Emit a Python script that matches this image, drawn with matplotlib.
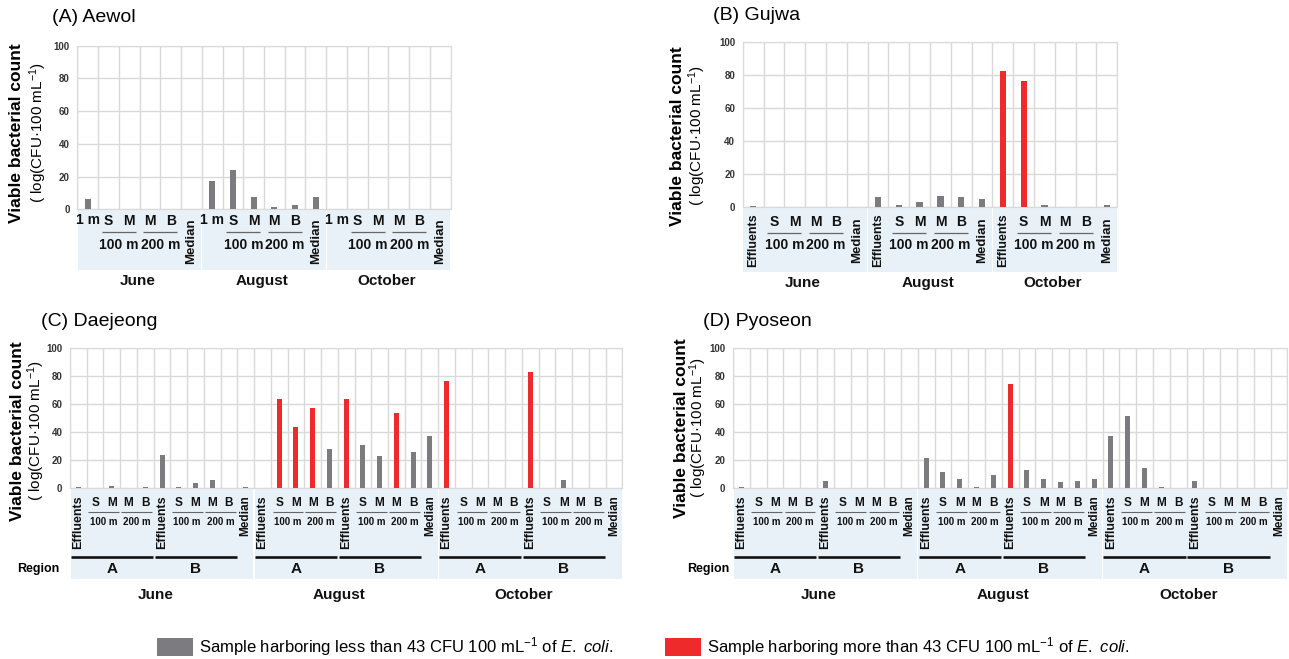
import numpy as np
import matplotlib
matplotlib.use('Agg')
import matplotlib.pyplot as plt
from matplotlib.patches import Rectangle

plt.rcParams['font.family'] = ['Liberation Sans', 'DejaVu Sans']
plt.rcParams['mathtext.fontset'] = 'custom'
plt.rcParams['mathtext.rm'] = 'Liberation Sans'
plt.rcParams['mathtext.it'] = 'Liberation Sans:italic'
plt.rcParams['mathtext.bf'] = 'Liberation Sans:bold'

months = ['June', 'August', 'October']

# (A) Aewol - 6 samples per month
a_labels = ['1 m', 'S', 'M', 'M', 'B', 'Median']
a_june = [6.3, 0, 0, 0, 0, 0]
a_aug = [17.3, 23.8, 7.7, 1.4, 2.9, 7.7]
a_oct = [0, 0.3, 0, 0, 0, 0]
a_red = [0] * 18

# (B) Gujwa
b_labels = ['Effluents', 'S', 'M', 'M', 'B', 'Median']
b_june = [0.6, 0, 0, 0, 0, 0]
b_aug = [5.7, 1.0, 2.6, 6.7, 6.1, 4.6]
b_oct = [82.2, 76.2, 1.2, 0, 0, 0.8]
b_red = [0] * 12 + [1, 1, 0, 0, 0, 0]

# (C) Daejeong - region A (5) + region B (5) + median per month
cd_labels = ['Effluents', 'S', 'M', 'M', 'B']
c_june = [0.8, 0, 1.5, 0, 0.8, 23.9, 0.8, 3.5, 5.9, 0, 0.8]
c_aug = [0, 63.3, 43.8, 56.9, 28.0, 63.3, 30.8, 23.2, 53.3, 25.6, 37.2]
c_oct = [76.3, 0, 0, 0, 0, 82.7, 0, 5.9, 0, 0, 0]
c_red = ([0] * 11 + [0, 1, 1, 1, 0, 1, 0, 0, 1, 0, 0]
         + [1, 0, 0, 0, 0, 1, 0, 0, 0, 0, 0])

# (D) Pyoseon
d_june = [0.8, 0, 0, 0.5, 0, 5.0, 0, 0.5, 0, 0, 0]
d_aug = [21.8, 11.6, 6.6, 1.0, 9.7, 74.2, 12.8, 6.6, 4.7, 5.2, 6.6]
d_oct = [37.2, 51.4, 14.7, 0.9, 0, 5.2, 0, 0, 0, 0, 0]
d_red = [0] * 11 + [0, 0, 0, 0, 0, 1, 0, 0, 0, 0, 0] + [0] * 11

GRAY = '#7c7c80'
RED = '#ee2a2a'
BAND = '#e8f1f7'
GRID = '#d9d9d9'

W, H = 1289, 659
fig = plt.figure(figsize=(W / 100, H / 100), dpi=100)


def make_ax(x0, x1, y0, y1, vals, red):
    ax = fig.add_axes([x0 / W, 1 - y1 / H, (x1 - x0) / W, (y1 - y0) / H])
    n = len(vals)
    ax.set_xlim(0, n)
    ax.set_ylim(0, 100)
    ax.set_xticks(np.arange(n + 1))
    ax.set_xticklabels([])
    ax.set_yticks(np.arange(0, 101, 20))
    ax.tick_params(length=0, labelsize=7, labelcolor='#333333', pad=5.5)
    for lab in ax.get_yticklabels():
        lab.set_fontweight('bold')
    ax.grid(True, color=GRID, lw=1.0)
    ax.set_axisbelow(True)
    for s in ax.spines.values():
        s.set_color(GRID)
    cols = [RED if r else GRAY for r in red]
    ax.bar(np.arange(n) + 0.5, vals, width=0.3, color=cols, zorder=3)
    # pixel helper: y in px -> axes fraction
    ax._yb, ax._h = y1, y1 - y0
    return ax


def fy(ax, ypx):
    return (ax._yb - ypx) / ax._h


def txt(ax, x, ypx, s, size, rot=0):
    ax.text(x, fy(ax, ypx), s, transform=ax.get_xaxis_transform(),
            ha='center', va='center', fontsize=size, fontweight='bold',
            rotation=rot, clip_on=False, color='#111111')


def hline(ax, xa, xb, ypx, lw, color):
    ax.plot([xa, xb], [fy(ax, ypx)] * 2, transform=ax.get_xaxis_transform(),
            color=color, lw=lw, clip_on=False, solid_capstyle='butt')


def band(ax, xa, xb, ypx):
    yb = fy(ax, ypx)
    ax.add_patch(Rectangle((xa, yb), xb - xa, -yb, transform=ax.get_xaxis_transform(),
                           facecolor=BAND, edgecolor='none', clip_on=False, zorder=0))


def simple_panel(box, vals, red, labels, first_y, first_rot, first_size,
                 sm_y, line_y, dist_y, med_y, band_y, month_y):
    ax = make_ax(*box, vals, red)
    for g in range(3):
        o = 6 * g
        band(ax, o + 0.03, o + 5.97, band_y)
        txt(ax, o + 0.5, first_y, labels[0], first_size, first_rot)
        for k in range(1, 5):
            txt(ax, o + k + 0.5, sm_y, labels[k], 10)
        hline(ax, o + 1.18, o + 2.82, line_y, 0.9, '#666666')
        hline(ax, o + 3.18, o + 4.82, line_y, 0.9, '#666666')
        txt(ax, o + 2, dist_y, '100 m', 10)
        txt(ax, o + 4, dist_y, '200 m', 10)
        txt(ax, o + 5.5, med_y, labels[5], 9.5, 90)
        txt(ax, o + 2.9, month_y, months[g], 11)
    return ax


def region_panel(box, vals, red, region_x):
    ax = make_ax(*box, vals, red)
    for m in range(3):
        o = 11 * m
        band(ax, o + 0.04, o + 10.96, 578.5)
        for r, name in enumerate(['A', 'B']):
            b = o + 5 * r
            txt(ax, b + 0.5, 522.5, cd_labels[0], 9, 90)
            for k in range(1, 5):
                txt(ax, b + k + 0.5, 503, cd_labels[k], 8.5)
            hline(ax, b + 1.1, b + 2.93, 512, 0.8, '#666666')
            hline(ax, b + 3.07, b + 4.9, 512, 0.8, '#666666')
            txt(ax, b + 2, 522, '100 m', 7)
            txt(ax, b + 4, 522, '200 m', 7)
            hline(ax, b + 0.05, b + 4.95, 556.5, 1.9, '#111111')
            txt(ax, b + 2.5, 569, name, 11)
        txt(ax, o + 10.5, 516, 'Median', 8.5, 90)
        txt(ax, o + 5.1, 595, months[m], 11)
    fig.text(region_x / W, 1 - 569 / H, 'Region', ha='center', va='center',
             fontsize=9, fontweight='bold')
    return ax


simple_panel((77.3, 450.7, 45.7, 209.3), a_june + a_aug + a_oct, a_red, a_labels,
             220, 0, 10, 221, 232, 245, 241, 270, 281)
simple_panel((742.7, 1117.3, 41.7, 206.7), b_june + b_aug + b_oct, b_red, b_labels,
             240, 90, 9, 221.5, 232.5, 245, 240, 271.5, 282.5)
region_panel((70, 622.3, 347.7, 488.3), c_june + c_aug + c_oct, c_red, 38)
region_panel((733, 1287.3, 347.7, 488.3), d_june + d_aug + d_oct, d_red, 708)

# titles
for s, x, y in [('(A) Aewol', 52, 18), ('(B) Gujwa', 713, 16),
                ('(C) Daejeong', 41, 322), ('(D) Pyoseon', 703, 322)]:
    fig.text(x / W, 1 - y / H, s, ha='left', va='center', fontsize=14)

# y labels
for xb, xs, yc in [(17, 38, 133), (677, 697, 136), (18, 36, 431), (682, 698, 428)]:
    fig.text(xb / W, 1 - yc / H, 'Viable bacterial count', rotation=90,
             ha='center', va='center', fontsize=12.5, fontweight='bold')
    fig.text(xs / W, 1 - yc / H, '( log(CFU·100 mL$^{-1}$)', rotation=90,
             ha='center', va='center', fontsize=11)

# legend
for x0, col, s in [(157, GRAY, 'less'), (665, RED, 'more')]:
    fig.add_artist(Rectangle((x0 / W, 1 - 656 / H), 36 / W, 18 / H,
                             transform=fig.transFigure, facecolor=col, edgecolor='none'))
    fig.text((x0 + 42) / W, 1 - 647 / H,
             'Sample harboring %s than 43 CFU 100 mL$^{-1}$ of $\\mathit{E.\\ coli}$.' % s,
             ha='left', va='center', fontsize=12)

fig.savefig('out.png', dpi=100)
